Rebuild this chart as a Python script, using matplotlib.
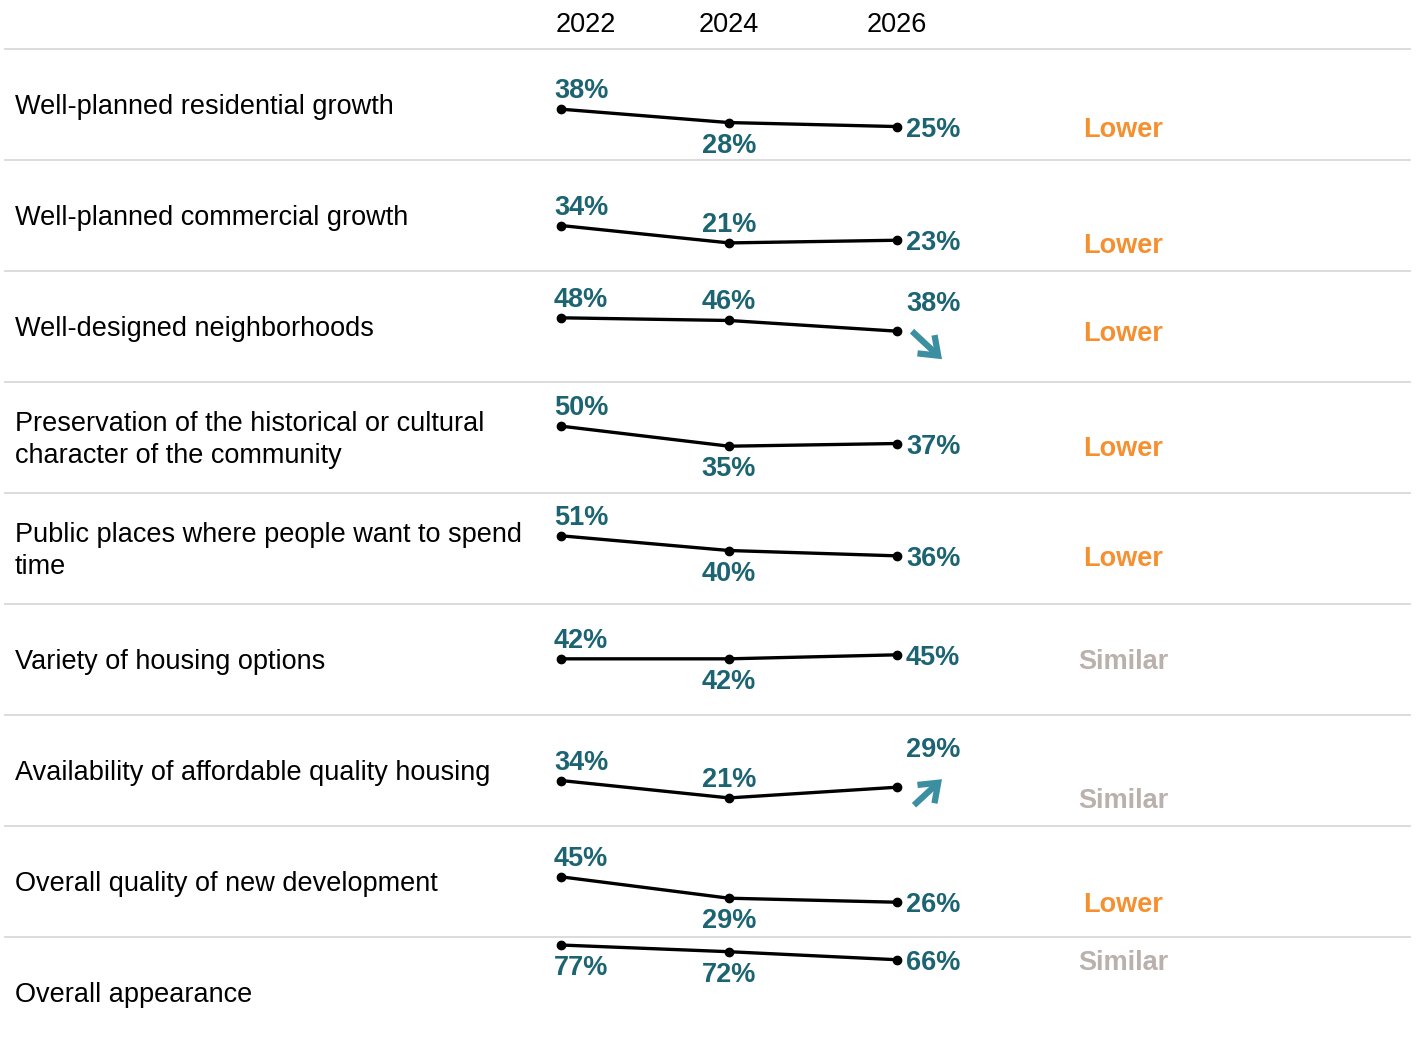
import matplotlib
matplotlib.use("Agg")
import matplotlib.pyplot as plt
from matplotlib import transforms

# ---------------- data ----------------
categories = [
    "Well-planned residential growth",
    "Well-planned commercial growth",
    "Well-designed neighborhoods",
    "Preservation of the historical or cultural\ncharacter of the community",
    "Public places where people want to spend\ntime",
    "Variety of housing options",
    "Availability of affordable quality housing",
    "Overall quality of new development",
    "Overall appearance",
]
years = [2022, 2024, 2026]
v2022 = [38, 34, 48, 50, 51, 42, 34, 45, 77]
v2024 = [28, 21, 46, 35, 40, 42, 21, 29, 72]
v2026 = [25, 23, 38, 37, 36, 45, 29, 26, 66]
comparison = ["Lower", "Lower", "Lower", "Lower", "Lower", "Similar", "Similar", "Lower", "Similar"]
trend = [None, None, "down", None, None, None, "up", None, None]

# label placement (style)
pos2022 = ["above"] * 8 + ["below"]
pos2024 = ["below", "above", "above", "below", "below", "below", "above", "below", "below"]
pos2026 = ["right", "right", "above", "right", "right", "right", "above", "right", "right"]

# ---------------- style ----------------
W, H, DPI = 1416, 1044, 100
FONT = "Liberation Sans"
TEAL = "#1d6473"
ARROW = "#3b8fa0"
ORANGE = "#f4902f"
GRAY = "#bab0ac"
SEP = "#d9d9d9"
FS = 19.5

plt.rcParams["font.family"] = [FONT, "DejaVu Sans"]

fig = plt.figure(figsize=(W / DPI, H / DPI), dpi=DPI)
fig.patch.set_facecolor("white")

row_top0 = 49      # px
row_h = 111        # px
px_per_year = 84.0
x2022_px = 561
ymax = 83.0

xlim = (2022 - x2022_px / px_per_year, 2022 + (W - x2022_px) / px_per_year)

axes = []
for i, cat in enumerate(categories):
    top = row_top0 + row_h * i
    ax = fig.add_axes([0, 1 - (top + row_h) / H, 1, row_h / H])
    ax.set_xlim(*xlim)
    ax.set_ylim(0, ymax)
    ax.axis("off")
    ax.patch.set_alpha(0)
    axes.append(ax)

    # separator at top of row
    ax.plot([5 / W, 1410 / W], [1, 1], transform=ax.transAxes, color=SEP,
            lw=1.3, clip_on=False, zorder=0)

    # row label
    ax.text(15 / W, 0.5 - 2.5 / row_h, cat, transform=ax.transAxes, ha="left",
            va="center", fontsize=FS, color="black", linespacing=1.32)

    vals = [v2022[i], v2024[i], v2026[i]]
    ax.plot(years, vals, color="black", lw=2.4, marker="o", ms=6,
            solid_capstyle="round", clip_on=False, zorder=3)

    def lab(x, v, pos, dx_left, ha, above_off=21):
        if pos == "above":
            dx, dy = dx_left, above_off
        elif pos == "below":
            dx, dy = dx_left, -20
        else:
            dx, dy = 9, 0
        ax.annotate(f"{v}%", xy=(x, v), xytext=(dx, dy), textcoords="offset pixels",
                    ha=ha, va="center_baseline", fontsize=FS, fontweight="bold",
                    color=TEAL, annotation_clip=False)

    lab(2022, v2022[i], pos2022[i], -7, "left")
    lab(2024, v2024[i], pos2024[i], 0, "center")
    off26 = {"down": 30, "up": 40}.get(trend[i], 21)
    lab(2026, v2026[i], pos2026[i], 9, "left", above_off=off26)

    # trend arrows
    if trend[i] is not None:
        if trend[i] == "down":
            end, start_rel = (45, -28), (-30, 28)
        else:
            end, start_rel = (45, 8), (-28, -26)
        tr = ax.transData + transforms.ScaledTranslation(end[0] / DPI, end[1] / DPI,
                                                         fig.dpi_scale_trans)
        ax.annotate("", xy=(2026, v2026[i]), xycoords=tr,
                    xytext=start_rel, textcoords="offset pixels",
                    arrowprops=dict(arrowstyle="->,head_length=0.6,head_width=0.45",
                                    lw=4.5, color=ARROW, shrinkA=0, shrinkB=0,
                                    mutation_scale=20, joinstyle="miter",
                                    capstyle="butt"),
                    annotation_clip=False)

    # comparison label at row minimum
    bt = transforms.blended_transform_factory(ax.transAxes, ax.transData)
    ax.text(1123 / W, min(vals), comparison[i], transform=bt, ha="center",
            va="center_baseline", fontsize=FS, fontweight="bold",
            color=ORANGE if comparison[i] == "Lower" else GRAY)

# year header
ht = transforms.blended_transform_factory(axes[0].transData, fig.transFigure)
for yr in years:
    ha = "left" if yr == years[0] else "center"
    x = yr - 5 / px_per_year if yr == years[0] else yr
    fig.text(x, 1 - 22 / H, str(yr), transform=ht, ha=ha, va="center_baseline",
             fontsize=FS, color="black")

fig.savefig("out.png", dpi=DPI, facecolor="white")
